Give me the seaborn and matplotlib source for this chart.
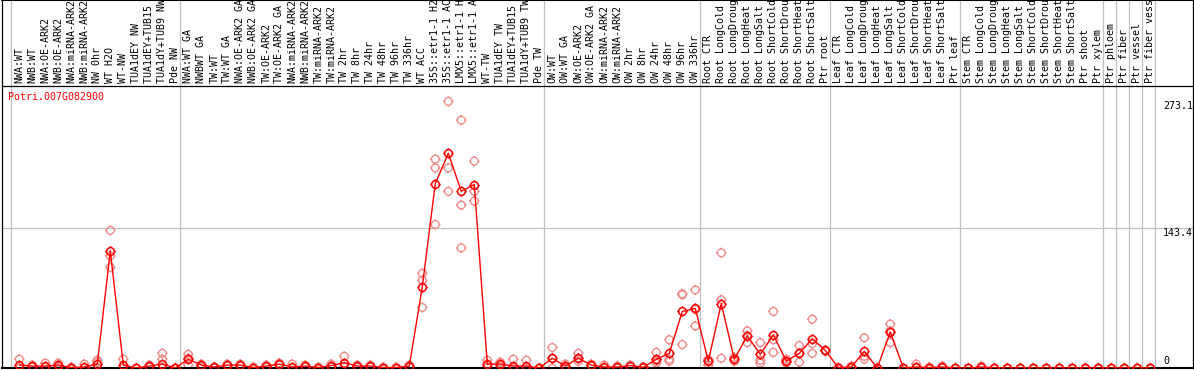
import matplotlib
matplotlib.use("Agg")
import numpy as np
import pandas as pd
import matplotlib.pyplot as plt
import matplotlib.transforms as mtransforms
from matplotlib.path import Path
import seaborn as sns

# sample names, in column order (one group per line block)
sample_labels = [
    "NWA:WT", "NWB:WT", "NWA:OE-ARK2", "NWB:OE-ARK2", "NWA:miRNA-ARK2", "NWB:miRNA-ARK2",
    "NW 0hr", "WT H2O", "WT-NW", "TUA1dEY NW", "TUA1dEY+TUB15 NW", "TUA1dY+TUB9 NW", "Pde NW",
    "NWA:WT GA", "NWBWT GA", "TW:WT", "TW:WT GA", "NWA:OE-ARK2 GA", "NWB:OE-ARK2 GA",
    "TW:OE-ARK2", "TW:OE-ARK2 GA", "NWA:miRNA-ARK2", "NWB:miRNA-ARK2", "TW:miRNA-ARK2",
    "TW:miRNA-ARK2", "TW 2hr", "TW 8hr", "TW 24hr", "TW 48hr", "TW 96hr", "TW 336hr", "WT ACC",
    "35S::etr1-1 H2O", "35S::etr1-1 ACC", "LMX5::etr1-1 H2O", "LMX5::etr1-1 ACC", "WT-TW",
    "TUA1dEY TW", "TUA1dEY+TUB15 TW", "TUA1dY+TUB9 TW", "Pde TW",
    "OW:WT", "OW:WT GA", "OW:OE-ARK2", "OW:OE-ARK2 GA", "OW:miRNA-ARK2", "OW:miRNA-ARK2",
    "OW 2hr", "OW 8hr", "OW 24hr", "OW 48hr", "OW 96hr", "OW 336hr",
    "Root CTR", "Root LongCold", "Root LongDrought", "Root LongHeat", "Root LongSalt",
    "Root ShortCold", "Root ShortDrought", "Root ShortHeat", "Root ShortSalt", "Ptr root",
    "Leaf CTR", "Leaf LongCold", "Leaf LongDrought", "Leaf LongHeat", "Leaf LongSalt",
    "Leaf ShortCold", "Leaf ShortDrought", "Leaf ShortHeat", "Leaf ShortSalt", "Ptr leaf",
    "Stem CTR", "Stem LongCold", "Stem LongDrought", "Stem LongHeat", "Stem LongSalt",
    "Stem ShortCold", "Stem ShortDrought", "Stem ShortHeat", "Stem ShortSalt", "Ptr shoot", "Ptr xylem",
    "Ptr phloem", "Ptr fiber", "Ptr vessel", "Ptr fiber vessel",
]
group_sizes = [13, 28, 12, 10, 10, 11, 1, 1, 1, 1]

# mean expression (red line)
mean_expr = [
    3, 2, 2, 3, 0.5, 1, 4, 120, 3, 0, 2, 4, 0,
    9, 3, 1, 3, 3, 0.5, 2, 4, 1, 2, 0.5, 2.5, 5.5, 2, 2, 0.5, 0.5, 2,
    83, 189, 220, 181, 188, 4, 4, 2, 2, 0,
    10, 2, 10, 3, 1, 1, 2.5, 0.7, 9, 15, 58, 61,
    7, 66, 9, 33, 14, 34, 7, 15, 30, 18,
    0.5, 1, 17, 0, 37, 0, 1, 0.5, 1, 0,
    0, 1, 0, 0, 0, 0, 0, 0, 0, 0, 0,
    0, 0, 0, 0,
]
# replicates (pink circles)
rep_a = [
    9, 3, 5, 5, 1, 4, 8, 141, 9, 0, 3, 15, 0,
    14, 4, 1, 4, 4, 1, 3, 5, 4, 3, 1, 4, 12, 3, 3, 1, 1, 3,
    97, 214, 273.1, 254, 212, 8, 6, 9, 8, 0,
    21, 4, 15, 4, 3, 2, 3, 1, 16, 29, 76, 80,
    9, 118, 11, 38, 26, 58, 9, 23, 50, 18,
    1, 2, 31, 0, 45, 0, 4, 1, 2, 0,
    0, 2, 0, 0, 0, 0, 0, 0, 0, 0, 0,
    0, 0, 0, 0,
]
rep_b = [
    1, 2, 1, 3, 0.5, 0, 6, 115, 0, 0, 2, 9, 0,
    10, 3, 1, 3, 3, 0, 2, 4, 0, 2, 0, 2, 4, 2, 2, 0, 0, 2,
    90, 205, 205, 167, 181, 3, 4, 0, 1, 0,
    10, 2, 10, 3, 0, 1, 2, 1, 7, 9, 75, 60,
    8, 70, 9, 33, 8, 29, 7, 15, 25, 18,
    0, 1, 12, 0, 38, 0, 0, 0, 1, 0,
    0, 1, 0, 0, 0, 0, 0, 0, 0, 0, 0,
    0, 0, 0, 0,
]
rep_c = [
    0, 1, 1, 1, 0, 0, 0, 103, 0, 0, 1, 0, 0,
    3, 1, 0, 2, 2, 0, 1, 3, 0, 1, 0, 1, 1, 1, 1, 0, 0, 1,
    62, 147, 181, 123, 171, 1, 2, 0, 0, 0,
    0, 0, 7, 2, 0, 0, 2, 0, 5, 7, 24, 43,
    3, 10, 7, 26, 5, 16, 5, 6, 15, 17,
    0, 0, 9, 0, 26, 0, 0, 0, 0, 0,
    0, 0, 0, 0, 0, 0, 0, 0, 0, 0, 0,
    0, 0, 0, 0,
]
gene_id = "Potri.007G082900"
ytick_values = [0, 143.4, 273.1]

sns.set_style("white")
plt.rcParams["font.family"] = ["DejaVu Sans Mono"]
plt.rcParams["font.size"] = 7.2

pos = np.arange(len(sample_labels))
mean_df = pd.DataFrame({"pos": pos, "expr": mean_expr})
rep_df = pd.DataFrame({
    "pos": np.concatenate([pos, pos, pos]),
    "expr": rep_a + rep_b + rep_c,
})

# circle with little ticks, like the original markers
ticks = Path([[0, 1], [0, 1.35], [0, -1], [0, -1.35], [1, 0], [1.35, 0], [-1, 0], [-1.35, 0]],
             [Path.MOVETO, Path.LINETO] * 4)
tick_marker = Path.make_compound_path(Path.unit_circle(), ticks)

W, H = 1194, 370
fig = plt.figure(figsize=(W / 100, H / 100), dpi=100)
top_px, bot_px, left_px, right_px = 86, 368, 2, 1193
ax = fig.add_axes([left_px / W, (H - bot_px) / H, (right_px - left_px) / W, (bot_px - top_px) / H])

pink = "#F08C8C"
sns.scatterplot(data=rep_df, x="pos", y="expr", ax=ax, marker=tick_marker, s=56,
                color=pink, linewidth=1.0, zorder=2, legend=False)
coll = ax.collections[-1]
coll.set_facecolor("none")
coll.set_edgecolor(pink)

sns.lineplot(data=mean_df, x="pos", y="expr", ax=ax, color="red", lw=1.0,
             marker=tick_marker, markersize=7.5, markerfacecolor="none",
             markeredgecolor="red", markeredgewidth=1.1, zorder=3)

# x range: column i sits at pixel 19.3 + 13 i
ax.set_xlim((left_px - 19.3) / 13, (right_px - 19.3) / 13)
ax.set_ylim(0, (bot_px - top_px) / 0.976)
ax.set_xticks([])
ax.set_yticks([])
ax.set_xlabel("")
ax.set_ylabel("")

ext = (bot_px - 0) / (bot_px - top_px)  # axes-y of the figure top
for s in ["top", "left", "right"]:
    ax.spines[s].set_linewidth(0.9)
    ax.spines[s].set_color("black")
ax.spines["bottom"].set_linewidth(1.5)
ax.spines["bottom"].set_color("black")
ax.plot([0, 0], [1, ext], transform=ax.transAxes, color="black", lw=0.9, clip_on=False)
ax.plot([1, 1], [1, ext], transform=ax.transAxes, color="black", lw=0.9, clip_on=False)
ax.plot([0, 1], [ext, ext], transform=ax.transAxes, color="black", lw=1.5, clip_on=False)

# group separators
seps = [-0.62] + list(np.cumsum(group_sizes) - 0.62)
for xs in seps:
    ax.axvline(xs, ymin=0, ymax=ext, color="#C0C0C0", lw=0.9, clip_on=False, zorder=1)
ax.axhline(ytick_values[1], color="#C0C0C0", lw=0.9, zorder=1)

# rotated sample labels above the plot
trans = mtransforms.blended_transform_factory(ax.transData, ax.transAxes)
label_y = (bot_px - 83) / (bot_px - top_px)
for i, lab in enumerate(sample_labels):
    ax.text(i, label_y, lab, rotation=90, ha="center", va="bottom", transform=trans,
            clip_on=False, color="black")

# value labels on the right
xt = (1163 - 19.3) / 13
ax.text(xt, ytick_values[2], "273.1", ha="left", va="top", color="black")
ax.text(xt, ytick_values[1], "143.4", ha="left", va="top", color="black")
ax.text(xt, 2, "0", ha="left", va="bottom", color="black")

ax.text((8 - 19.3) / 13, (bot_px - 97) / 0.976, gene_id, ha="left", va="center", color="red")

fig.savefig("out.png", dpi=100)
